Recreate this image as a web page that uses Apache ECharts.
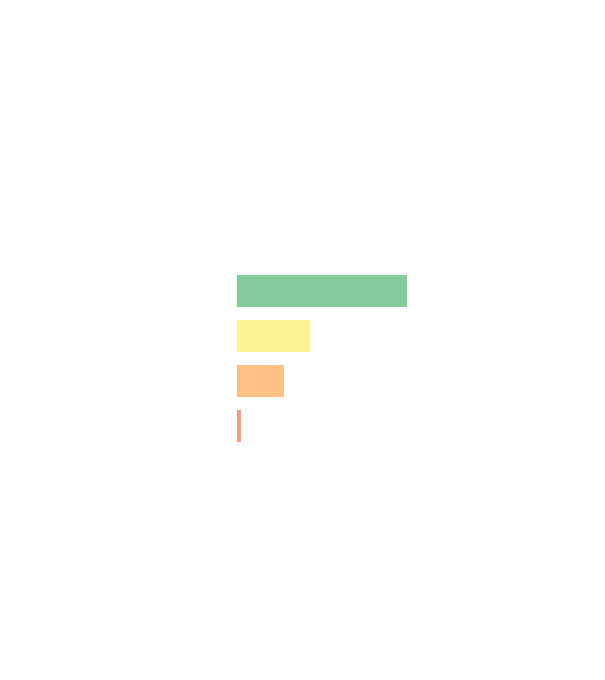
<!DOCTYPE html>
<html><head><meta charset="utf-8">
<script src="https://cdn.jsdelivr.net/npm/echarts@6/dist/echarts.min.js"></script>
<style>html,body{margin:0;padding:0;background:#fff}#c{width:605px;height:680px}</style>
</head><body><div id="c"></div>
<script>
const categories = ['A', 'B', 'C', 'D'];
const values = [170, 73, 47, 4];
const colors = ['#83cb9c', '#fff495', '#ffc084', '#f79c86'];

const chart = echarts.init(document.getElementById('c'), null, {renderer: 'canvas'});
chart.setOption({
  animation: false,
  backgroundColor: '#ffffff',
  grid: {left: 237, width: 200, top: 268.5, height: 180},
  xAxis: {type: 'value', min: 0, max: 200, show: false},
  yAxis: {type: 'category', data: categories, inverse: true, show: false},
  series: [{
    type: 'bar',
    barWidth: 32,
    data: values.map((v, i) => ({value: v, itemStyle: {color: colors[i]}})),
    itemStyle: {
      decal: {symbol: 'circle', symbolSize: 0.25, dashArrayX: [[1, 9], [1, 13]], dashArrayY: [2, 11], color: 'rgba(255,255,255,0.35)', rotation: 0.4}
    }
  }]
});
</script></body></html>
